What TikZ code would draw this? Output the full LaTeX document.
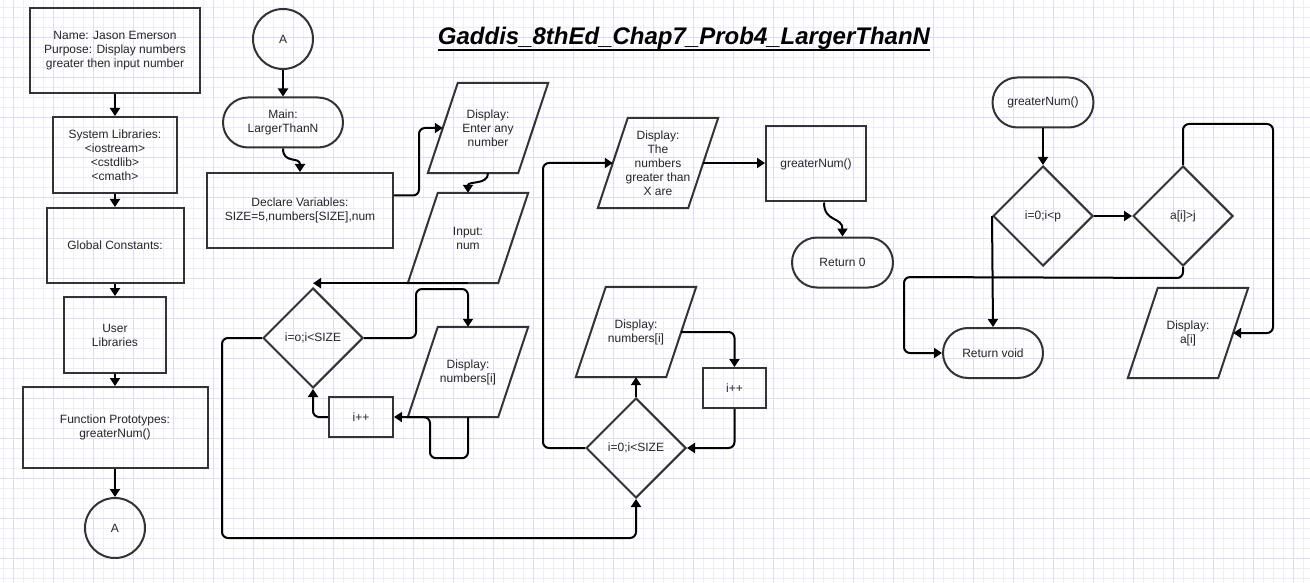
\documentclass[tikz,border=0pt]{standalone}
\usepackage{fontspec}
\setmainfont{Liberation Sans}
\usetikzlibrary{shapes.geometric,arrows.meta}
\definecolor{gridminor}{HTML}{ECECFA}
\definecolor{gridmajor}{HTML}{DCDCF5}
\definecolor{shapecol}{HTML}{333333}
\definecolor{textcol}{HTML}{262626}

\begin{document}
\begin{tikzpicture}[x=1pt,y=-1pt,
  every node/.style={font=\fontsize{12}{14}\selectfont,text=textcol,align=center},
  shapeline/.style={draw=shapecol,line width=2pt},
  box/.style={shapeline,rectangle,inner sep=2pt},
  term/.style={shapeline,rectangle,rounded corners=25,minimum height=50},
  io/.style={rectangle,minimum width=90,minimum height=90,inner sep=0pt},
  cond/.style={shapeline,diamond,aspect=1,minimum width=100,minimum height=100,inner sep=0pt},
  conn/.style={shapeline,circle,minimum size=60,inner sep=0pt},
  link/.style={draw=black,line width=2pt,rounded corners=6,-{Triangle[width=10pt,length=8pt]}}]
\useasboundingbox (0,0) rectangle (1310,583);
\fill[white] (0,0) rectangle (1310,583);
\foreach \x in {3,13,...,1303} \draw[gridminor,line width=1pt] (\x,0) -- (\x,583);
\foreach \y in {8,18,...,578} \draw[gridminor,line width=1pt] (0,\y) -- (1310,\y);
\foreach \x in {13,53,...,1293} \draw[gridmajor,line width=1pt] (\x,0) -- (\x,583);
\foreach \y in {38,78,...,558} \draw[gridmajor,line width=1pt] (0,\y) -- (1310,\y);

\node[font=\fontsize{24}{28}\selectfont\bfseries\itshape,text=black,inner sep=0pt,anchor=base] (title) at (684,45) {Gaddis\_8thEd\_Chap7\_Prob4\_LargerThanN};
\draw[line width=2pt] ([yshift=-5]title.base west) -- ([yshift=-5]title.base east);

\node[box,minimum width=170,minimum height=85] (about) at (115,50.5) {Name: Jason Emerson\\Purpose: Display numbers\\greater then input number};
\node[box,minimum width=124,minimum height=76] (syslib) at (115,155) {System Libraries:\\<iostream>\\<cstdlib>\\<cmath>};
\node[box,minimum width=137,minimum height=75] (globals) at (115,245.5) {Global Constants:};
\node[box,minimum width=102,minimum height=76] (userlib) at (115,335) {User\\Libraries};
\node[box,minimum width=185,minimum height=81] (protos) at (115,427.5) {Function Prototypes:\\greaterNum()};
\node[conn] (offA) at (115,528) {A};
\foreach \a/\b in {about/syslib,syslib/globals,globals/userlib,userlib/protos,protos/offA}
  \draw[link] (\a) -- (\b);

\node[conn] (onA) at (283,39) {A};
\node[term,minimum width=120] (mainT) at (283,122.5) {Main:\\LargerThanN};
\node[box,minimum width=186,minimum height=75] (decl) at (300,210.5) {Declare Variables:\\SIZE=5,numbers[SIZE],num};
\node[io] (askNum) at (488,128) {Display:\\Enter any\\number};
\node[io] (getNum) at (468,238) {Input:\\num};
\node[cond] (loopA) at (313,338) {i=o;i<SIZE};
\node[io] (showNum) at (468,372) {Display:\\numbers[i]};
\node[box,minimum width=64,minimum height=40] (incA) at (361,417) {i++};
\node[cond] (loopB) at (636,448) {i=0;i<SIZE};
\node[io] (showAll) at (636,332) {Display:\\numbers[i]};
\node[box,minimum width=63,minimum height=40] (incB) at (734.5,388) {i++};
\node[io] (header) at (658,163) {Display:\\The\\numbers\\greater than\\X are};
\node[box,minimum width=100,minimum height=75] (callFn) at (816,164) {greaterNum()};
\node[term,minimum width=101] (ret0) at (842.5,262.5) {Return 0};

\node[term,minimum width=101] (fnT) at (1043,102.5) {greaterNum()};
\node[cond] (fnLoop) at (1043,216) {i=0;i<p};
\node[cond] (fnTest) at (1183,216) {a[i]>j};
\node[io] (fnShow) at (1188,333) {Display:\\a[i]};
\node[term,minimum width=100] (retV) at (993,353) {Return void};

\foreach \n in {askNum,getNum,showNum,showAll,header,fnShow}
  \draw[shapeline] ([xshift=15]\n.north west) -- ([xshift=15]\n.north east) -- ([xshift=-15]\n.south east) -- ([xshift=-15]\n.south west) -- cycle;

\draw[link] (onA) -- (mainT);
\draw[link] (mainT.south) .. controls +(0,16) and +(0,-16) .. (decl.north);
\draw[link] ([yshift=15]decl.east) -- ++(25,0) |- (askNum.west);
\draw[link] (askNum.south) .. controls +(0,12) and +(0,-12) .. (getNum.north);
\draw[link] (getNum.south) -- (getNum.south -| loopA.north);
\draw[link] (loopA.east) -- ++(52,0) -- ++(0,-49) -| (showNum.north);
\draw[link] (showNum.south) -- ++(0,41) -- ++(-38,0) -- ++(0,-41) -- (incA.east);
\draw[link] (incA.west) -| (loopA.south);
\draw[link] (loopA.west) -- ++(-40,0) -- ++(0,200) -| (loopB.south);
\draw[link] (loopB.north) -- (showAll.south);
\draw[link] (showAll.east) -| (incB.north);
\draw[link] (incB.south) |- (loopB.east);
\draw[link] (loopB.west) -- ++(-42,0) |- (header.west);
\draw[link] (header.east) -- (header.east -| callFn.west);
\draw[link] ([xshift=8]callFn.south) .. controls +(0,20) and +(0,-20) .. (ret0.north);

\draw[link] (fnT) -- (fnLoop);
\draw[link] (fnLoop) -- (fnTest);
\draw[link] (fnTest.north) -- ++(0,-41) -- ++(90,0) |- (fnShow.east);
\draw[link] (fnTest.south) -- ++(0,11) -- (904,277) |- (retV.west);
\draw[link] (fnLoop.west) -- (retV.north);
\end{tikzpicture}
\end{document}
